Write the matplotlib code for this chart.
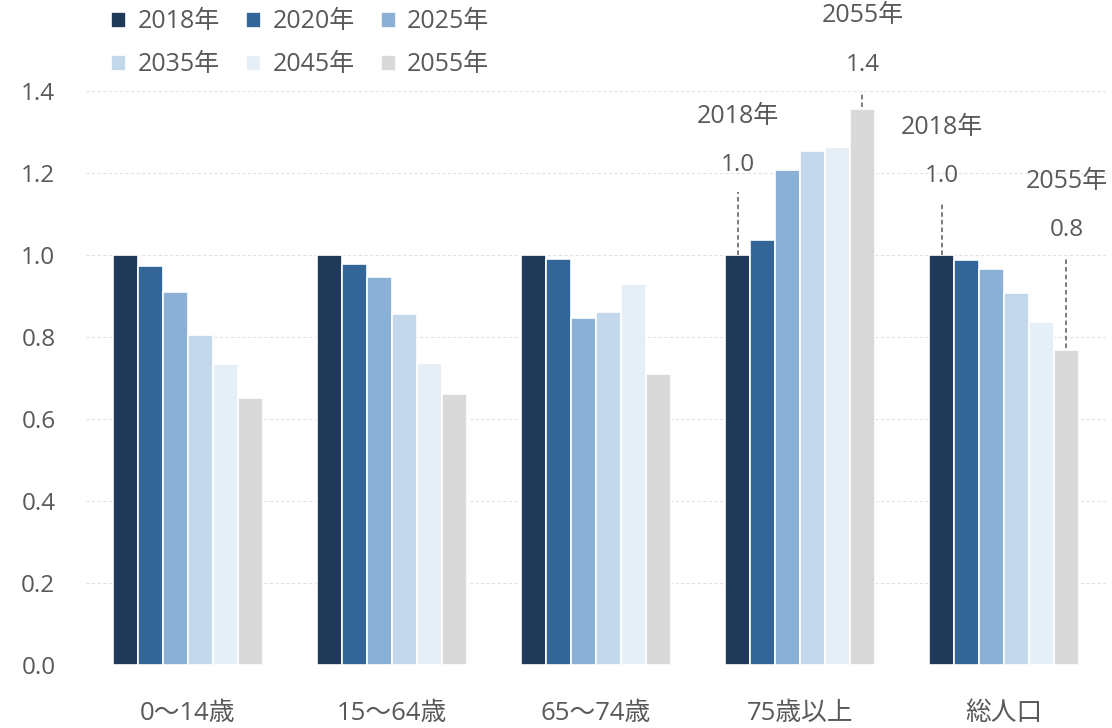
import matplotlib
matplotlib.use("Agg")
import matplotlib.pyplot as plt
import numpy as np

plt.rcParams["font.family"] = ["Open Sans", "Noto Sans CJK JP", "DejaVu Sans"]

categories = ["0〜14歳", "15〜64歳", "65〜74歳", "75歳以上", "総人口"]
years = ["2018年", "2020年", "2025年", "2035年", "2045年", "2055年"]

v2018 = [1.00, 1.00, 1.00, 1.00, 1.00]
v2020 = [0.973, 0.978, 0.990, 1.037, 0.988]
v2025 = [0.910, 0.946, 0.846, 1.207, 0.966]
v2035 = [0.805, 0.856, 0.861, 1.254, 0.907]
v2045 = [0.734, 0.737, 0.929, 1.263, 0.837]
v2055 = [0.651, 0.661, 0.710, 1.356, 0.768]
series = [v2018, v2020, v2025, v2035, v2045, v2055]

colors = ["#1F3A58", "#336696", "#8AB0D6", "#C4D8EB", "#E6EEF6", "#D9D9D9"]
TEXT = "#595959"
FS = 17.5

fig = plt.figure(figsize=(11.12, 7.28), dpi=100)
ax = fig.add_axes([0.0773, 0.0865, 0.9173, 0.7885])

x = np.arange(len(categories))
w = 0.1225
bars = []
for j, (vals, yr, c) in enumerate(zip(series, years, colors)):
    b = ax.bar(x + (j - 2.5) * w, vals, width=w, color=c, edgecolor="white",
               linewidth=1.2, label=yr, zorder=3)
    bars.append(b)

ax.set_xlim(-0.5, len(categories) - 0.5)
ax.set_ylim(0, 1.4)
ticks = np.arange(0, 1.41, 0.2)
ax.set_yticks(ticks)
ax.set_yticklabels([f"{t:.1f}" for t in ticks])
ax.set_xticks(x)
ax.set_xticklabels(categories, fontsize=18.5)
ax.tick_params(axis="both", length=0, colors=TEXT)
ax.tick_params(axis="y", labelsize=FS, pad=22)
ax.tick_params(axis="x", pad=26)
for s in ax.spines.values():
    s.set_visible(False)
ax.yaxis.grid(True, color="#E3E3E3", linestyle=(0, (3, 2)), linewidth=0.8, zorder=0)
ax.set_axisbelow(True)

# callouts: (category index, series index, line start offset, line end offset above bar)
callouts = [(3, 0, 0.0, 0.154), (3, 5, 0.005, 0.042), (4, 0, 0.0, 0.127), (4, 5, 0.005, 0.227)]
for ci, si, lo, hi in callouts:
    val = series[si][ci]
    bx = ci + (si - 2.5) * w
    ax.plot([bx, bx], [val + lo, val + hi], color=TEXT, linestyle=(0, (3, 2)),
            linewidth=1.1, zorder=4, clip_on=False)
    ax.text(bx, val + hi + 0.065, f"{val:.1f}", ha="center", va="center",
            fontsize=FS, color=TEXT, clip_on=False)
    ax.text(bx, val + hi + 0.185, years[si], ha="center", va="center",
            fontsize=18, color=TEXT, clip_on=False)

# legend filled row by row
order = [0, 3, 1, 4, 2, 5]
leg = fig.legend([bars[i] for i in order], [years[i] for i in order],
                 loc="upper left", bbox_to_anchor=(0.08, 1.018), ncol=3,
                 frameon=False, fontsize=18, handlelength=0.6, handleheight=0.6,
                 handletextpad=0.45, columnspacing=1.05, labelspacing=0.72)
for t in leg.get_texts():
    t.set_color(TEXT)

fig.savefig("out.png", dpi=100)
